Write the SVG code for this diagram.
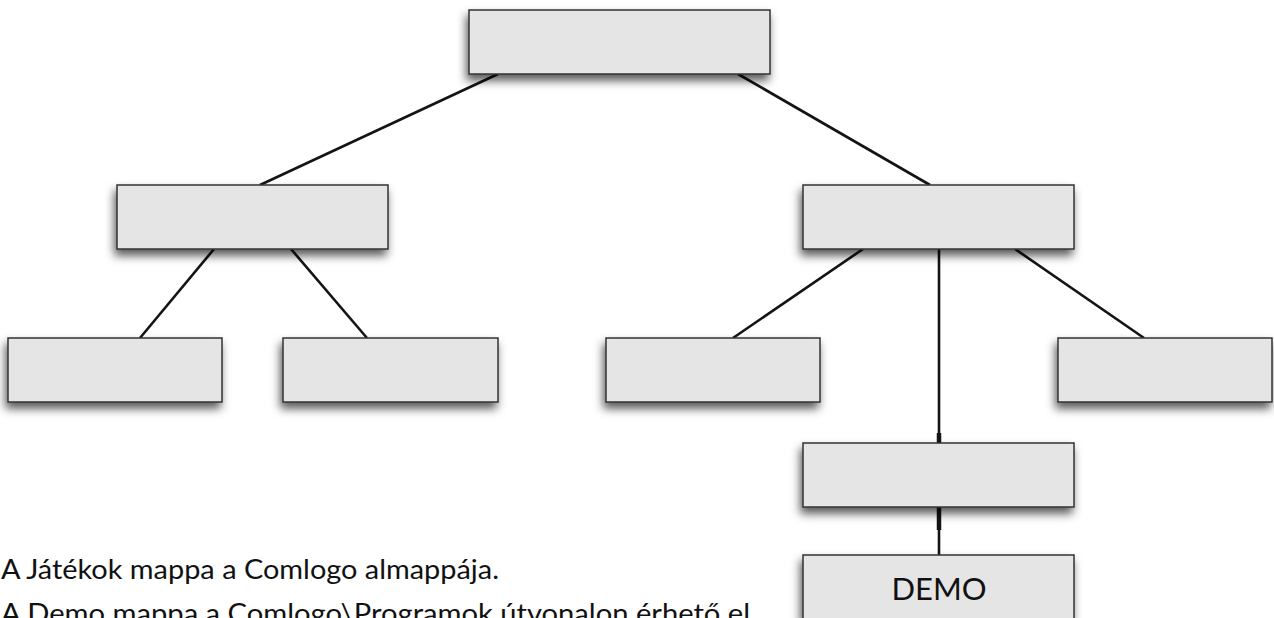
<svg xmlns="http://www.w3.org/2000/svg" width="1274" height="618" viewBox="0 0 1274 618">
<style>
.box{fill:#e5e5e5;stroke:#333;stroke-width:1.5;filter:url(#sh)}
.c{stroke:#141414;stroke-width:2.6;fill:none}
.ct{stroke:#141414;stroke-width:4.5;fill:none}
.t{font-family:"Lato","Open Sans","Liberation Sans",sans-serif;fill:#111}
</style>
<defs>
<filter id="sh" x="-10%" y="-30%" width="120%" height="170%">
<feDropShadow dx="-2" dy="6" stdDeviation="5" flood-color="#000" flood-opacity="0.65"/>
</filter>
</defs>
<rect width="1274" height="618" fill="#fff"/>
<g id="connectors">
<line class="c" x1="498" y1="74" x2="260" y2="185"/>
<line class="c" x1="738" y1="74" x2="930" y2="185"/>
<line class="c" x1="214" y1="249" x2="140" y2="338"/>
<line class="c" x1="291" y1="249" x2="367" y2="338"/>
<line class="c" x1="863" y1="249" x2="733" y2="338"/>
<line class="c" x1="1015" y1="249" x2="1144" y2="338"/>
<line class="c" x1="939" y1="249" x2="939" y2="443"/>
<line class="ct" x1="939" y1="433" x2="939" y2="443"/>
<line class="c" x1="939" y1="507" x2="939" y2="555"/>
<line class="ct" x1="939" y1="507" x2="939" y2="530"/>
</g>
<g id="n-root"><rect class="box" x="469" y="10" width="301" height="64"/></g>
<g id="n-left"><rect class="box" x="117" y="185" width="271" height="64"/></g>
<g id="n-right"><rect class="box" x="803" y="185" width="271" height="64"/></g>
<g id="n-ll"><rect class="box" x="8" y="338" width="214" height="64"/></g>
<g id="n-lr"><rect class="box" x="283" y="338" width="215" height="64"/></g>
<g id="n-rl"><rect class="box" x="606" y="338" width="214" height="64"/></g>
<g id="n-rr"><rect class="box" x="1058" y="338" width="214" height="64"/></g>
<g id="n-rm"><rect class="box" x="803" y="443" width="271" height="64"/></g>
<g id="n-demo"><rect class="box" x="803" y="555" width="271" height="64"/>
<text class="t" x="939" y="600" font-size="31" text-anchor="middle">DEMO</text></g>
<g id="caption">
<text class="t" x="1" y="579" font-size="26" textLength="498" lengthAdjust="spacingAndGlyphs">A Játékok mappa a Comlogo almappája.</text>
<text class="t" x="1" y="623" font-size="26" textLength="756" lengthAdjust="spacingAndGlyphs">A Demo mappa a Comlogo\Programok útvonalon érhető el.</text>
</g>
</svg>
